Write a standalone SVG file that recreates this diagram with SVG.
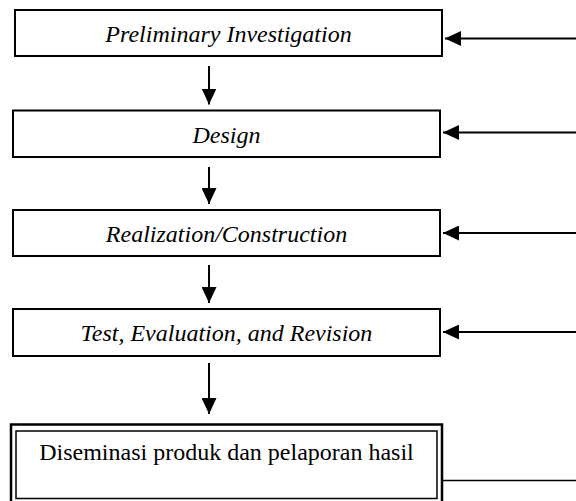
<svg xmlns="http://www.w3.org/2000/svg" width="576" height="501" viewBox="0 0 576 501">
<style>
.box{fill:#fff;stroke:#000;stroke-width:2}
.t{font-family:"Liberation Serif","Times New Roman",serif;font-size:24px;fill:#000;text-anchor:middle}
.i{font-style:italic}
.c{stroke:#000;stroke-width:2;fill:none}
</style>
<defs>
<marker id="ah" markerUnits="userSpaceOnUse" markerWidth="16" markerHeight="15" refX="16" refY="7.5" orient="auto">
<path d="M0,0 L16,7.5 L0,15 Z" fill="#000"/>
</marker>
</defs>
<rect width="576" height="501" fill="#fff"/>
<g id="n1"><rect class="box" x="15" y="10" width="427" height="46"/><text class="t i" x="228.5" y="41.5">Preliminary Investigation</text></g>
<g id="n2"><rect class="box" x="13" y="110.5" width="427" height="46.5"/><text class="t i" x="226.5" y="142.5">Design</text></g>
<g id="n3"><rect class="box" x="13" y="210" width="427" height="46"/><text class="t i" x="226.5" y="242">Realization/Construction</text></g>
<g id="n4"><rect class="box" x="13" y="309" width="427" height="47"/><text class="t i" x="226.5" y="341">Test, Evaluation, and Revision</text></g>
<g id="n5"><rect x="11" y="424.5" width="431" height="80" fill="#fff" stroke="#000" stroke-width="2.5"/><rect x="16" y="431" width="421" height="67.5" fill="none" stroke="#000" stroke-width="1.5"/><text class="t" x="226.5" y="460">Diseminasi produk dan pelaporan hasil</text></g>
<g id="connectors">
<line class="c" x1="209" y1="66" x2="209" y2="104.5" marker-end="url(#ah)"/>
<line class="c" x1="209" y1="167" x2="209" y2="204" marker-end="url(#ah)"/>
<line class="c" x1="209" y1="265" x2="209" y2="303" marker-end="url(#ah)"/>
<line class="c" x1="209" y1="363" x2="209" y2="414" marker-end="url(#ah)"/>
<line class="c" x1="576" y1="38.5" x2="445" y2="38.5" marker-end="url(#ah)"/>
<line class="c" x1="576" y1="132.5" x2="443" y2="132.5" marker-end="url(#ah)"/>
<line class="c" x1="576" y1="233" x2="443" y2="233" marker-end="url(#ah)"/>
<line class="c" x1="576" y1="332" x2="443" y2="332" marker-end="url(#ah)"/>
<line x1="443" y1="480.5" x2="576" y2="480.5" stroke="#000" stroke-width="1.5"/>
</g>
</svg>
